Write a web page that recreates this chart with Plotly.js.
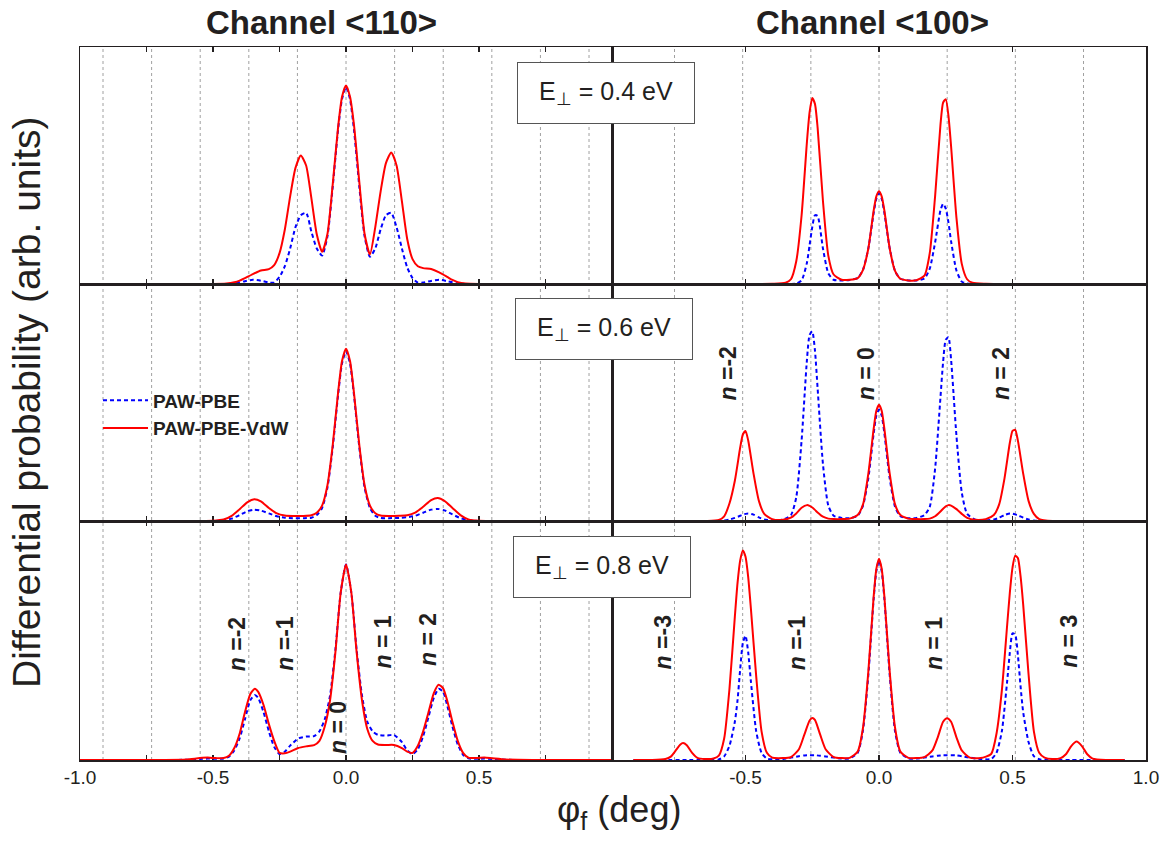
<!DOCTYPE html>
<html><head><meta charset="utf-8">
<script src="https://cdn.plot.ly/plotly-3.0.1.min.js"></script>
<style>html,body{margin:0;padding:0;background:#fff}#chart{width:1163px;height:843px}</style>
</head><body><div id="chart"></div>
<script>
// ---------- DATA ----------
const seriesNames = ['PAW-PBE', 'PAW-PBE-VdW'];
const columnTitles = ['Channel &lt;110&gt;', 'Channel &lt;100&gt;'];
const energyLabels = ['0.4', '0.6', '0.8'];

// Lattice (diffraction order) positions, deg
const grid110 = [-0.9135, -0.7308, -0.5481, -0.3654, -0.1827, 0, 0.1827, 0.3654, 0.5481, 0.7308, 0.9135];
const grid100 = [-0.766, -0.5107, -0.2553, 0, 0.2553, 0.5107, 0.766];

// Tick labels
const tickVals110 = [-1, -0.5, 0, 0.5];
const tickText110 = ['-1.0', '-0.5', '0.0', '0.5'];
const minorTicks110 = [-0.75, -0.25, 0.25, 0.75];
const tickVals100 = [-0.5, 0, 0.5, 1];
const tickText100 = ['-0.5', '0.0', '0.5', '1.0'];

// Row 1 left: <110>, E = 0.4 eV
const xA = [-0.913, -0.6, -0.5, -0.45, -0.42, -0.40, -0.38, -0.35, -0.32, -0.29, -0.27, -0.25, -0.23, -0.21, -0.19, -0.17, -0.15, -0.13, -0.11, -0.09, -0.07, -0.05, -0.03, -0.015, 0, 0.015, 0.03, 0.05, 0.07, 0.09, 0.11, 0.13, 0.15, 0.17, 0.19, 0.21, 0.23, 0.25, 0.27, 0.29, 0.32, 0.35, 0.38, 0.40, 0.42, 0.45, 0.5, 0.6, 0.913];
const redA = [0, 0, 0, 0.002, 0.007, 0.014, 0.025, 0.042, 0.057, 0.063, 0.08, 0.13, 0.23, 0.37, 0.49, 0.542, 0.50, 0.36, 0.21, 0.136, 0.21, 0.42, 0.66, 0.79, 0.838, 0.79, 0.67, 0.43, 0.21, 0.125, 0.24, 0.39, 0.51, 0.555, 0.50, 0.35, 0.19, 0.105, 0.075, 0.067, 0.063, 0.049, 0.03, 0.017, 0.008, 0.002, 0, 0, 0];
const blueA = [0, 0, 0, 0, 0.003, 0.007, 0.012, 0.018, 0.014, 0.006, 0.006, 0.03, 0.075, 0.15, 0.24, 0.29, 0.30, 0.22, 0.15, 0.12, 0.2, 0.41, 0.65, 0.78, 0.831, 0.78, 0.65, 0.41, 0.2, 0.115, 0.15, 0.23, 0.29, 0.30, 0.24, 0.15, 0.07, 0.025, 0.006, 0.006, 0.013, 0.018, 0.012, 0.007, 0.003, 0, 0, 0, 0];

// Row 1 right: <100>, E = 0.4 eV
const xB = [-0.75, -0.5, -0.40, -0.35, -0.33, -0.31, -0.29, -0.27, -0.26, -0.25, -0.24, -0.23, -0.21, -0.19, -0.17, -0.14, -0.11, -0.08, -0.06, -0.04, -0.02, -0.01, 0, 0.01, 0.02, 0.04, 0.06, 0.08, 0.11, 0.14, 0.17, 0.19, 0.21, 0.23, 0.24, 0.25, 0.26, 0.27, 0.29, 0.31, 0.33, 0.35, 0.40, 0.5, 0.75];
const redB = [0, 0, 0.001, 0.005, 0.02, 0.096, 0.29, 0.60, 0.725, 0.785, 0.76, 0.66, 0.35, 0.12, 0.04, 0.018, 0.018, 0.025, 0.06, 0.15, 0.31, 0.37, 0.391, 0.37, 0.31, 0.15, 0.055, 0.022, 0.015, 0.016, 0.035, 0.13, 0.37, 0.67, 0.765, 0.78, 0.71, 0.58, 0.28, 0.085, 0.02, 0.005, 0.001, 0, 0];
const blueB = [0, 0, 0, 0, 0, 0.002, 0.015, 0.09, 0.165, 0.24, 0.29, 0.287, 0.15, 0.045, 0.018, 0.015, 0.017, 0.025, 0.06, 0.15, 0.30, 0.36, 0.384, 0.36, 0.30, 0.15, 0.055, 0.022, 0.015, 0.015, 0.023, 0.065, 0.175, 0.31, 0.338, 0.318, 0.26, 0.18, 0.057, 0.01, 0.002, 0, 0, 0, 0];

// Row 2 left: <110>, E = 0.6 eV
const xC = [-0.913, -0.6, -0.5, -0.46, -0.43, -0.40, -0.37, -0.345, -0.32, -0.29, -0.26, -0.23, -0.2, -0.16, -0.13, -0.11, -0.09, -0.07, -0.05, -0.03, -0.015, 0, 0.015, 0.03, 0.05, 0.07, 0.09, 0.11, 0.13, 0.16, 0.2, 0.23, 0.26, 0.29, 0.32, 0.345, 0.37, 0.40, 0.43, 0.46, 0.5, 0.6, 0.913];
const redC = [0, 0, 0.001, 0.006, 0.022, 0.05, 0.08, 0.092, 0.083, 0.055, 0.032, 0.023, 0.021, 0.021, 0.024, 0.035, 0.065, 0.15, 0.32, 0.54, 0.675, 0.727, 0.675, 0.54, 0.32, 0.15, 0.065, 0.033, 0.023, 0.021, 0.022, 0.024, 0.035, 0.06, 0.088, 0.097, 0.085, 0.055, 0.025, 0.007, 0.001, 0, 0];
const blueC = [0, 0, 0, 0.003, 0.01, 0.025, 0.042, 0.048, 0.044, 0.032, 0.02, 0.014, 0.012, 0.012, 0.014, 0.025, 0.055, 0.14, 0.31, 0.53, 0.665, 0.716, 0.665, 0.53, 0.31, 0.14, 0.055, 0.022, 0.013, 0.012, 0.013, 0.016, 0.022, 0.035, 0.048, 0.051, 0.045, 0.028, 0.012, 0.004, 0, 0, 0];

// Row 2 right: <100>, E = 0.6 eV
const xD = [-0.92, -0.65, -0.6, -0.58, -0.56, -0.54, -0.52, -0.51, -0.50, -0.49, -0.47, -0.45, -0.43, -0.40, -0.36, -0.33, -0.31, -0.29, -0.27, -0.26, -0.25, -0.24, -0.23, -0.21, -0.19, -0.17, -0.14, -0.11, -0.08, -0.06, -0.04, -0.02, -0.01, 0, 0.01, 0.02, 0.04, 0.06, 0.08, 0.11, 0.14, 0.17, 0.19, 0.21, 0.23, 0.24, 0.25, 0.26, 0.27, 0.29, 0.31, 0.33, 0.36, 0.40, 0.43, 0.45, 0.47, 0.49, 0.50, 0.51, 0.52, 0.54, 0.56, 0.58, 0.6, 0.65, 0.92];
const redD = [0, 0, 0.004, 0.02, 0.075, 0.17, 0.31, 0.365, 0.38, 0.34, 0.2, 0.085, 0.03, 0.008, 0.005, 0.014, 0.032, 0.056, 0.067, 0.064, 0.057, 0.047, 0.036, 0.018, 0.01, 0.008, 0.008, 0.01, 0.025, 0.07, 0.2, 0.39, 0.465, 0.49, 0.465, 0.39, 0.2, 0.07, 0.025, 0.01, 0.008, 0.008, 0.01, 0.02, 0.04, 0.052, 0.062, 0.067, 0.065, 0.05, 0.03, 0.013, 0.005, 0.008, 0.025, 0.07, 0.18, 0.33, 0.38, 0.385, 0.34, 0.2, 0.085, 0.03, 0.008, 0, 0];
const blueD = [0, 0, 0, 0.002, 0.006, 0.013, 0.022, 0.027, 0.03, 0.032, 0.027, 0.015, 0.006, 0.003, 0.006, 0.025, 0.1, 0.34, 0.68, 0.785, 0.8, 0.72, 0.56, 0.24, 0.065, 0.022, 0.013, 0.012, 0.022, 0.065, 0.18, 0.37, 0.445, 0.47, 0.445, 0.37, 0.18, 0.06, 0.02, 0.012, 0.013, 0.025, 0.06, 0.22, 0.52, 0.67, 0.765, 0.775, 0.68, 0.36, 0.12, 0.03, 0.006, 0.003, 0.006, 0.014, 0.025, 0.032, 0.031, 0.028, 0.024, 0.014, 0.006, 0.002, 0, 0, 0];

// Row 3 left: <110>, E = 0.8 eV
const xE = [-1.0, -0.7, -0.6, -0.55, -0.52, -0.49, -0.46, -0.44, -0.42, -0.40, -0.38, -0.36, -0.343, -0.33, -0.31, -0.29, -0.27, -0.25, -0.23, -0.21, -0.18, -0.15, -0.12, -0.1, -0.08, -0.06, -0.04, -0.02, 0, 0.02, 0.04, 0.06, 0.08, 0.1, 0.12, 0.15, 0.18, 0.21, 0.23, 0.25, 0.27, 0.29, 0.31, 0.33, 0.348, 0.365, 0.38, 0.40, 0.42, 0.44, 0.46, 0.49, 0.52, 0.55, 0.6, 0.7, 1.0];
const redE = [0, 0, 0.002, 0.008, 0.01, 0.008, 0.008, 0.018, 0.05, 0.11, 0.2, 0.275, 0.298, 0.285, 0.23, 0.15, 0.08, 0.03, 0.028, 0.035, 0.05, 0.057, 0.062, 0.08, 0.14, 0.25, 0.45, 0.7, 0.818, 0.7, 0.45, 0.25, 0.13, 0.08, 0.065, 0.063, 0.063, 0.05, 0.035, 0.03, 0.06, 0.12, 0.2, 0.28, 0.315, 0.3, 0.25, 0.16, 0.08, 0.03, 0.01, 0.008, 0.01, 0.007, 0.002, 0, 0];
const blueE = [0, 0, 0.001, 0.004, 0.006, 0.005, 0.006, 0.014, 0.04, 0.09, 0.17, 0.25, 0.272, 0.26, 0.2, 0.12, 0.055, 0.025, 0.035, 0.06, 0.09, 0.098, 0.1, 0.12, 0.17, 0.27, 0.46, 0.7, 0.818, 0.7, 0.46, 0.27, 0.16, 0.12, 0.105, 0.102, 0.105, 0.075, 0.04, 0.025, 0.045, 0.1, 0.18, 0.26, 0.298, 0.285, 0.23, 0.14, 0.065, 0.022, 0.007, 0.005, 0.006, 0.004, 0.001, 0, 0];

// Row 3 right: <100>, E = 0.8 eV
const xF = [-0.92, -0.85, -0.80, -0.78, -0.76, -0.745, -0.734, -0.72, -0.70, -0.68, -0.65, -0.62, -0.60, -0.58, -0.56, -0.54, -0.53, -0.52, -0.51, -0.50, -0.49, -0.48, -0.46, -0.44, -0.42, -0.40, -0.36, -0.33, -0.30, -0.28, -0.26, -0.25, -0.24, -0.22, -0.20, -0.17, -0.14, -0.11, -0.08, -0.06, -0.04, -0.02, -0.01, 0, 0.01, 0.02, 0.04, 0.06, 0.08, 0.11, 0.14, 0.17, 0.20, 0.22, 0.24, 0.255, 0.27, 0.29, 0.31, 0.34, 0.38, 0.42, 0.44, 0.46, 0.48, 0.49, 0.50, 0.51, 0.52, 0.53, 0.54, 0.56, 0.58, 0.60, 0.62, 0.65, 0.68, 0.70, 0.72, 0.74, 0.76, 0.78, 0.80, 0.85, 0.92];
const redF = [0, 0, 0.004, 0.014, 0.042, 0.064, 0.071, 0.062, 0.03, 0.009, 0.004, 0.006, 0.018, 0.09, 0.3, 0.6, 0.74, 0.835, 0.877, 0.85, 0.765, 0.635, 0.35, 0.12, 0.03, 0.01, 0.008, 0.012, 0.045, 0.105, 0.165, 0.176, 0.168, 0.105, 0.045, 0.012, 0.008, 0.009, 0.035, 0.135, 0.37, 0.685, 0.8, 0.842, 0.8, 0.685, 0.37, 0.135, 0.035, 0.009, 0.008, 0.012, 0.04, 0.095, 0.16, 0.175, 0.16, 0.095, 0.04, 0.01, 0.008, 0.025, 0.11, 0.29, 0.565, 0.7, 0.805, 0.855, 0.845, 0.77, 0.65, 0.36, 0.12, 0.03, 0.01, 0.004, 0.008, 0.024, 0.058, 0.077, 0.058, 0.024, 0.006, 0, 0];
const blueF = [0, 0, 0, 0, 0, 0, 0, 0, 0, 0, 0, 0, 0.002, 0.015, 0.06, 0.16, 0.25, 0.38, 0.49, 0.52, 0.45, 0.33, 0.12, 0.03, 0.006, 0.003, 0.004, 0.01, 0.016, 0.019, 0.02, 0.02, 0.02, 0.018, 0.015, 0.01, 0.006, 0.007, 0.03, 0.125, 0.355, 0.675, 0.79, 0.835, 0.79, 0.675, 0.355, 0.12, 0.03, 0.007, 0.006, 0.01, 0.015, 0.018, 0.02, 0.02, 0.02, 0.019, 0.016, 0.01, 0.004, 0.004, 0.03, 0.12, 0.33, 0.45, 0.53, 0.525, 0.44, 0.31, 0.2, 0.075, 0.016, 0.003, 0, 0, 0, 0, 0, 0, 0, 0, 0, 0, 0];

// Order labels (text only)
const orderLabelsRow2Right = ['<i>n</i> =-2', '<i>n</i> = 0', '<i>n</i> = 2'];
const orderLabelsRow3Left = ['<i>n</i> =-2', '<i>n</i> =-1', '<i>n</i> = 0', '<i>n</i> = 1', '<i>n</i> = 2'];
const orderLabelsRow3Right = ['<i>n</i> =-3', '<i>n</i> =-1', '<i>n</i> = 1', '<i>n</i> = 3'];

// ---------- BUILD ----------
const FONT = 'Liberation Sans, Arial, Helvetica, sans-serif';
const INK = '#231f20';
const BLUE = '#0000ff', RED = '#ff0000';

const panels = [
  {x: xA, b: blueA, r: redA, ax: ''},
  {x: xB, b: blueB, r: redB, ax: '2'},
  {x: xC, b: blueC, r: redC, ax: '3'},
  {x: xD, b: blueD, r: redD, ax: '4'},
  {x: xE, b: blueE, r: redE, ax: '5'},
  {x: xF, b: blueF, r: redF, ax: '6'}
];

const traces = [];
panels.forEach((p, i) => {
  traces.push({x: p.x, y: p.b, xaxis: 'x' + p.ax, yaxis: 'y' + p.ax, type: 'scatter', mode: 'lines',
    name: '<b>' + seriesNames[0] + '</b>', showlegend: i === 0, hoverinfo: 'skip',
    line: {color: BLUE, width: 2, dash: '4px,3px', shape: 'spline', smoothing: 0.6}});
});
panels.forEach((p, i) => {
  traces.push({x: p.x, y: p.r, xaxis: 'x' + p.ax, yaxis: 'y' + p.ax, type: 'scatter', mode: 'lines',
    name: '<b>' + seriesNames[1] + '</b>', showlegend: i === 0, hoverinfo: 'skip',
    line: {color: RED, width: 2, shape: 'spline', smoothing: 0.6}});
});

const colDom = [[0, 0.4991], [0.4991, 1]];
const rowDom = [[0.6676, 1], [0.3352, 0.6676], [0, 0.3352]];

const layout = {
  width: 1163, height: 843,
  margin: {l: 80, r: 17, t: 47, b: 83},
  paper_bgcolor: '#ffffff', plot_bgcolor: 'rgba(0,0,0,0)',
  font: {family: FONT, color: INK},
  showlegend: true,
  legend: {x: 0.0169, y: 0.531, xanchor: 'left', yanchor: 'top', bgcolor: 'rgba(0,0,0,0)',
    borderwidth: 0, font: {family: FONT, size: 19, color: INK}, tracegroupgap: 0, itemwidth: 45},
  shapes: [], annotations: []
};

for (let row = 0; row < 3; row++) {
  for (let col = 0; col < 2; col++) {
    const idx = row * 2 + col + 1;
    const sfx = idx === 1 ? '' : String(idx);
    const xa = {
      domain: colDom[col], range: [-1, 1], anchor: 'y' + sfx,
      showline: true, linecolor: INK, linewidth: 1.5, mirror: 'ticks',
      ticks: 'inside', ticklen: 5, tickwidth: 1.2, tickcolor: INK,
      tickmode: 'array',
      tickvals: col === 0 ? tickVals110 : tickVals100,
      ticktext: col === 0 ? tickText110 : tickText100,
      showticklabels: row === 2,
      tickfont: {family: FONT, size: 19, color: INK},
      showgrid: false, zeroline: false, layer: 'below traces', fixedrange: true
    };
    if (col === 0) {
      xa.minor = {tickmode: 'array', tickvals: minorTicks110, ticks: 'inside', ticklen: 5,
        tickwidth: 1.2, tickcolor: INK, showgrid: false};
    }
    layout['xaxis' + sfx] = xa;
    layout['yaxis' + sfx] = {
      domain: rowDom[row], range: [0, 1], anchor: 'x' + sfx,
      showline: true, linecolor: INK, linewidth: 1.5, mirror: true,
      ticks: '', showticklabels: false, showgrid: false, zeroline: false,
      layer: 'below traces', fixedrange: true
    };
  }
}

// dotted lattice gridlines
grid110.forEach(v => layout.shapes.push({type: 'line', xref: 'x', yref: 'paper', x0: v, x1: v, y0: 0, y1: 1,
  line: {color: '#a0a0a0', width: 1, dash: 'dot'}, layer: 'below'}));
grid100.forEach(v => layout.shapes.push({type: 'line', xref: 'x2', yref: 'paper', x0: v, x1: v, y0: 0, y1: 1,
  line: {color: '#a0a0a0', width: 1, dash: 'dot'}, layer: 'below'}));

const A = layout.annotations;
// column titles
A.push({xref: 'paper', yref: 'paper', x: 0.227, y: 1.035, xanchor: 'center', yanchor: 'middle', showarrow: false,
  text: '<b>' + columnTitles[0] + '</b>', font: {family: FONT, size: 33, color: INK}});
A.push({xref: 'paper', yref: 'paper', x: 0.743, y: 1.035, xanchor: 'center', yanchor: 'middle', showarrow: false,
  text: '<b>' + columnTitles[1] + '</b>', font: {family: FONT, size: 33, color: INK}});
// axis titles
A.push({xref: 'paper', yref: 'paper', x: -0.0507, y: 0.502, xanchor: 'center', yanchor: 'middle', showarrow: false,
  textangle: -90, text: 'Differential probability (arb. units)', font: {family: FONT, size: 39, color: INK}});
A.push({xref: 'paper', yref: 'paper', x: 0.5056, y: -0.073, xanchor: 'center', yanchor: 'middle', showarrow: false,
  text: 'φ<sub>f</sub> (deg)', font: {family: FONT, size: 36, color: INK}});
// energy boxes
const boxPos = [[0.4934, 0.9355], [0.4916, 0.605], [0.4897, 0.2707]];
energyLabels.forEach((e, i) => A.push({xref: 'paper', yref: 'paper', x: boxPos[i][0], y: boxPos[i][1],
  xanchor: 'center', yanchor: 'middle', showarrow: false, text: 'E<sub>⊥</sub> = ' + e + ' eV',
  font: {family: FONT, size: 25, color: INK}, bgcolor: '#ffffff', bordercolor: '#555555', borderwidth: 1,
  borderpad: 0, width: 176, height: 60, align: 'center'}));
// order labels
function nlab(txt, xr, yr, x, y) {
  A.push({xref: xr, yref: yr, x: x, y: y, xanchor: 'center', yanchor: 'middle', showarrow: false,
    textangle: -90, text: '<b>' + txt + '</b>', font: {family: FONT, size: 23, color: INK}});
}
[-0.566, -0.05, 0.455].forEach((x, i) => nlab(orderLabelsRow2Right[i], 'x4', 'y4', x, 0.622));
[[-0.411, 0.483], [-0.23, 0.49], [-0.031, 0.137], [0.137, 0.494], [0.309, 0.503]].forEach((p, i) =>
  nlab(orderLabelsRow3Left[i], 'x5', 'y5', p[0], p[1]));
[[-0.811, 0.49], [-0.306, 0.49], [0.206, 0.485], [0.714, 0.497]].forEach((p, i) =>
  nlab(orderLabelsRow3Right[i], 'x6', 'y6', p[0], p[1]));

Plotly.newPlot('chart', traces, layout, {staticPlot: true, displayModeBar: false});
</script></body></html>
